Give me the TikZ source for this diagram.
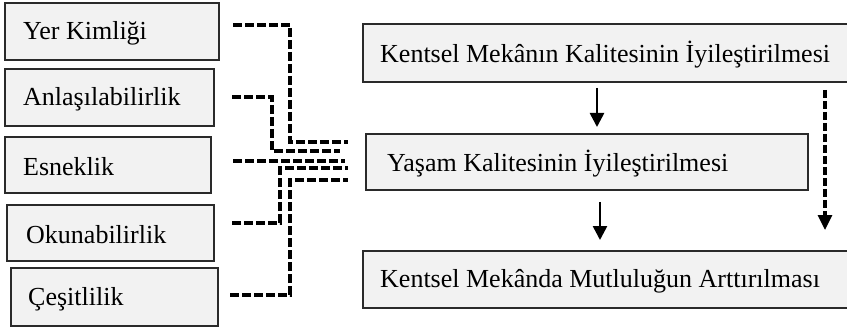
\documentclass[tikz,border=0pt]{standalone}
\usepackage{fontspec}
\setmainfont{Liberation Serif}
\usetikzlibrary{arrows.meta}
\definecolor{boxfill}{HTML}{F2F2F2}
\definecolor{boxline}{HTML}{2A2A2A}
\begin{document}
\begin{tikzpicture}[x=1pt,y=-1pt,
  box/.style={draw=boxline,fill=boxfill,line width=1.8pt,inner sep=0pt,anchor=north west},
  lbl/.style={inner sep=0pt,anchor=west,font=\fontsize{26}{30}\selectfont,text=black},
  conn/.style={line width=3.2pt,dash pattern=on 9pt off 3pt,black},
  arr/.style={line width=2.6pt,black,-{Triangle[length=14pt,width=14pt]}},
  darr/.style={line width=3.2pt,dash pattern=on 8pt off 3pt,black,-{Triangle[length=15pt,width=14pt]}}]
\useasboundingbox (0,0) rectangle (847,329);
% left boxes
\node[box,minimum width=214pt,minimum height=57pt] (A) at (4,2) {};
\node[box,minimum width=209pt,minimum height=57pt] (B) at (4,68) {};
\node[box,minimum width=206pt,minimum height=56pt] (C) at (4,136) {};
\node[box,minimum width=207pt,minimum height=56pt] (D) at (6,204) {};
\node[box,minimum width=207pt,minimum height=58pt] (E) at (10,267) {};
\node[lbl] (tA) at ([xshift=19pt,yshift=-2pt]A.west) {Yer Kimliği};
\node[lbl] (tB) at ([xshift=19pt,yshift=-2pt]B.west) {Anlaşılabilirlik};
\node[lbl] (tC) at ([xshift=19pt,yshift=-2pt]C.west) {Esneklik};
\node[lbl] (tD) at ([xshift=20pt,yshift=-2pt]D.west) {Okunabilirlik};
\node[lbl] (tE) at ([xshift=18pt,yshift=-2pt]E.west) {Çeşitlilik};
% right boxes
\node[box,minimum width=485pt,minimum height=58pt] (K1) at (362,23) {};
\node[box,minimum width=442pt,minimum height=56pt] (K2) at (365,133) {};
\node[box,minimum width=485pt,minimum height=57pt] (K3) at (362,250) {};
\node[lbl] (t1) at ([xshift=18pt,yshift=-2pt]K1.west) {Kentsel Mekânın Kalitesinin İyileştirilmesi};
\node[lbl] (t2) at ([xshift=22pt,yshift=-2pt]K2.west) {Yaşam Kalitesinin İyileştirilmesi};
\node[lbl] (t3) at ([xshift=18pt,yshift=-2pt]K3.west) {Kentsel Mekânda Mutluluğun Arttırılması};
% connector coordinates
\coordinate (a0) at (233,25);  \coordinate (a1) at (290,142); \coordinate (a2) at (348,142);
\coordinate (b0) at (232,97);  \coordinate (b1) at (272,151); \coordinate (b2) at (340,151);
\coordinate (c0) at (233,161); \coordinate (c2) at (345,161);
\coordinate (d0) at (232,223); \coordinate (d1) at (280,168); \coordinate (d2) at (348,168);
\coordinate (e0) at (230,295); \coordinate (e1) at (290,180); \coordinate (e2) at (348,180);
\draw[conn] (a0) -| (a1) -- (a2);
\draw[conn] (b0) -| (b1) -- (b2);
\draw[conn] (c0) -- (c2);
\draw[conn] (d0) -| (d1) -- (d2);
\draw[conn] (e0) -| (e1) -- (e2);
% arrows
\coordinate (x1) at (597,0);
\coordinate (x2) at (600,0);
\coordinate (x3) at (825,0);
\draw[arr] ([yshift=-5pt]K1.south -| x1) -- ([yshift=6pt]K2.north -| x1);
\draw[arr] ([yshift=-11pt]K2.south -| x2) -- ([yshift=10pt]K3.north -| x2);
\draw[darr] ([yshift=-7pt]K1.south -| x3) -- ([yshift=20pt]K3.north -| x3);
\end{tikzpicture}
\end{document}
